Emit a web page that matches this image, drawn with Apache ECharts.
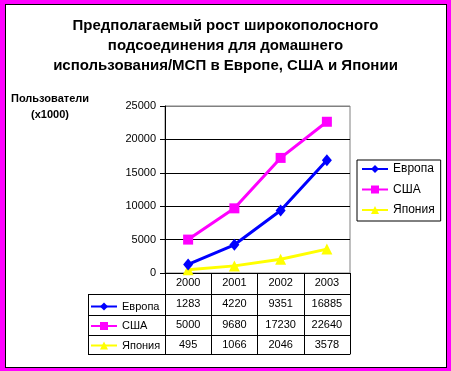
<!DOCTYPE html>
<html><head><meta charset="utf-8">
<script src="https://cdn.jsdelivr.net/npm/echarts@6/dist/echarts.min.js"></script>
<style>
html,body{margin:0;padding:0;background:#FF00FF;width:451px;height:371px;overflow:hidden;}
#frame{position:absolute;left:5px;top:4px;width:442px;height:364px;box-sizing:border-box;border:1px solid #000;background:#fff;}
#chart{position:absolute;left:0;top:0;width:451px;height:371px;}
</style></head><body>
<div id="frame"></div><div id="chart"></div>
<script>
const years = ['2000', '2001', '2002', '2003'];
const seriesNames = ['Европа', 'США', 'Япония'];
const europe = [1283, 4220, 9351, 16885];
const usa = [5000, 9680, 17230, 22640];
const japan = [495, 1066, 2046, 3578];
const titleText = 'Предполагаемый рост широкополосного\nподсоединения для домашнего\nиспользования/МСП в Европе, США и Японии';
const yTitle = 'Пользователи\n(x1000)';

const FONT = '"Liberation Sans", Arial, sans-serif';
const colors = ['#0000FF', '#FF00FF', '#FFFF00'];
const symbols = ['diamond', 'rect', 'triangle'];
const symbolSizes = [[10, 12], 10, 11];
const values = [europe, usa, japan];

function rowAxis(data, offset, tickLen) {
  return {
    type: 'category', gridIndex: 0, position: 'bottom', offset: offset, data: data,
    boundaryGap: true,
    axisLine: {show: true, onZero: false, lineStyle: {color: '#000', width: 1}},
    axisTick: {show: tickLen > 0, length: tickLen, interval: 0, lineStyle: {color: '#000', width: 1}},
    axisLabel: {show: true, interval: 0, margin: 4, fontSize: 11, color: '#000', fontFamily: FONT},
    splitLine: {show: false}
  };
}

const chart = echarts.init(document.getElementById('chart'), null, {renderer: 'canvas'});
chart.setOption({
  backgroundColor: 'transparent',
  animation: false,
  textStyle: {fontFamily: FONT},
  title: {
    text: titleText, left: 'center', top: 16, padding: 0,
    textStyle: {fontSize: 15, fontWeight: 'bold', color: '#000', lineHeight: 20, fontFamily: FONT}
  },
  grid: {left: 165, right: 101, top: 106, bottom: 98, show: true, borderColor: '#808080', borderWidth: 1, backgroundColor: 'transparent'},
  legend: [
    {
      data: seriesNames, orient: 'vertical', left: 357, top: 160,
      padding: [3, 6, 5, 4], itemGap: 8.5, itemWidth: 26, itemHeight: 10,
      borderColor: '#000', borderWidth: 1, selectedMode: false,
      textStyle: {fontSize: 12, color: '#000', fontFamily: FONT}
    },
    {
      data: seriesNames, orient: 'vertical', left: 90, top: 301,
      padding: 0, itemGap: 8.5, itemWidth: 26, itemHeight: 10, selectedMode: false,
      textStyle: {fontSize: 11, color: '#000', fontFamily: FONT}
    }
  ],
  xAxis: [
    rowAxis(years, 0, 21),
    rowAxis(europe.map(String), 21, 21),
    rowAxis(usa.map(String), 42, 20),
    rowAxis(japan.map(String), 62, 19),
    Object.assign(rowAxis(['', '', '', ''], 81, 0), {axisLabel: {show: false}})
  ],
  yAxis: {
    type: 'value', min: 0, max: 25000, interval: 5000,
    axisLine: {show: true, lineStyle: {color: '#000', width: 1}},
    axisTick: {show: true, length: 5, lineStyle: {color: '#000'}},
    axisLabel: {margin: 9, fontSize: 11, color: '#000', fontFamily: FONT, formatter: v => String(v)},
    splitLine: {show: true, lineStyle: {color: ['#000', '#000', '#000', '#000', '#000', '#808080'], width: 1}}
  },
  series: seriesNames.map((name, i) => ({
    name: name, type: 'line', xAxisIndex: 0, data: values[i],
    symbol: symbols[i], symbolSize: symbolSizes[i], showSymbol: true,
    lineStyle: {color: colors[i], width: 3},
    itemStyle: {color: colors[i], borderWidth: 0},
    z: 5 + (2 - i)
  })),
  graphic: [
    {type: 'text', x: 50, y: 91, z: 10,
      style: {text: yTitle, font: 'bold 11px ' + FONT, textAlign: 'center', textVerticalAlign: 'top', lineHeight: 16, fill: '#000'}},
    {type: 'line', shape: {x1: 88, y1: 294.5, x2: 165, y2: 294.5}, style: {stroke: '#000', lineWidth: 1}},
    {type: 'line', shape: {x1: 88, y1: 315.5, x2: 165, y2: 315.5}, style: {stroke: '#000', lineWidth: 1}},
    {type: 'line', shape: {x1: 88, y1: 335.5, x2: 165, y2: 335.5}, style: {stroke: '#000', lineWidth: 1}},
    {type: 'line', shape: {x1: 88, y1: 354.5, x2: 165, y2: 354.5}, style: {stroke: '#000', lineWidth: 1}},
    {type: 'line', shape: {x1: 88.5, y1: 294, x2: 88.5, y2: 355}, style: {stroke: '#000', lineWidth: 1}}
  ]
});
</script>
</body></html>
